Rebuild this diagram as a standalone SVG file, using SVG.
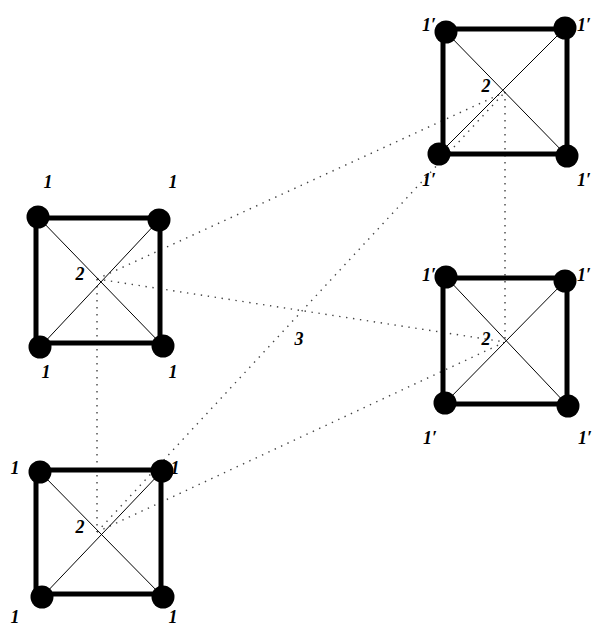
<svg xmlns="http://www.w3.org/2000/svg" width="592" height="626" viewBox="0 0 592 626">
  <style>
    .edge { fill: none; stroke: #000; stroke-width: 5; }
    .diag { stroke: #000; stroke-width: 1; }
    .vtx { fill: #000; }
    .link { stroke: #444; stroke-width: 1.4; stroke-dasharray: 1.4 5.6; fill: none; }
    .lbl { font-family: "Liberation Serif", "DejaVu Serif", serif; font-style: italic; font-weight: bold; font-size: 18px; fill: #000; text-anchor: middle; }
  </style>

  <!-- dotted links between cluster centres -->
  <g id="connectors">
    <line class="link" x1="97" y1="279" x2="97" y2="532"/>
    <line class="link" x1="505" y1="92" x2="505" y2="342"/>
    <line class="link" x1="97" y1="279" x2="505" y2="92"/>
    <line class="link" x1="97" y1="279" x2="505" y2="342"/>
    <line class="link" x1="97" y1="532" x2="505" y2="92"/>
    <line class="link" x1="97" y1="532" x2="505" y2="342"/>
  </g>

  <!-- left middle square -->
  <g id="squareA">
    <rect class="edge" x="36" y="218" width="124" height="125"/>
    <line class="diag" x1="38" y1="217" x2="163" y2="346"/>
    <line class="diag" x1="159" y1="220" x2="40" y2="347"/>
    <circle class="vtx" cx="38" cy="217" r="11.5"/>
    <circle class="vtx" cx="159" cy="220" r="11.5"/>
    <circle class="vtx" cx="40" cy="347" r="11.5"/>
    <circle class="vtx" cx="163" cy="346" r="11.5"/>
    <text class="lbl" x="48" y="188">1</text>
    <text class="lbl" x="173" y="188">1</text>
    <text class="lbl" x="46" y="378">1</text>
    <text class="lbl" x="173" y="378">1</text>
    <text class="lbl" x="80" y="280">2</text>
  </g>

  <!-- left bottom square -->
  <g id="squareB">
    <rect class="edge" x="36" y="470" width="125" height="124"/>
    <line class="diag" x1="40" y1="472" x2="163" y2="597"/>
    <line class="diag" x1="162" y1="471" x2="42" y2="597"/>
    <circle class="vtx" cx="40" cy="472" r="11.5"/>
    <circle class="vtx" cx="162" cy="471" r="11.5"/>
    <circle class="vtx" cx="42" cy="597" r="11.5"/>
    <circle class="vtx" cx="163" cy="597" r="11.5"/>
    <text class="lbl" x="15" y="474">1</text>
    <text class="lbl" x="175" y="474">1</text>
    <text class="lbl" x="15" y="623">1</text>
    <text class="lbl" x="173" y="623">1</text>
    <text class="lbl" x="80" y="533">2</text>
  </g>

  <!-- right top square -->
  <g id="squareC">
    <rect class="edge" x="443" y="29" width="124" height="125"/>
    <line class="diag" x1="446" y1="32" x2="567" y2="156"/>
    <line class="diag" x1="565" y1="28" x2="439" y2="154"/>
    <circle class="vtx" cx="446" cy="32" r="11.5"/>
    <circle class="vtx" cx="565" cy="28" r="11.5"/>
    <circle class="vtx" cx="439" cy="154" r="11.5"/>
    <circle class="vtx" cx="567" cy="156" r="11.5"/>
    <text class="lbl" x="429" y="31">1′</text>
    <text class="lbl" x="584" y="31">1′</text>
    <text class="lbl" x="429" y="186">1′</text>
    <text class="lbl" x="584" y="186">1′</text>
    <text class="lbl" x="486" y="92">2</text>
  </g>

  <!-- right middle square -->
  <g id="squareD">
    <rect class="edge" x="443" y="278" width="124" height="126"/>
    <line class="diag" x1="446" y1="277" x2="568" y2="406"/>
    <line class="diag" x1="565" y1="281" x2="445" y2="403"/>
    <circle class="vtx" cx="446" cy="277" r="11.5"/>
    <circle class="vtx" cx="565" cy="281" r="11.5"/>
    <circle class="vtx" cx="445" cy="403" r="11.5"/>
    <circle class="vtx" cx="568" cy="406" r="11.5"/>
    <text class="lbl" x="429" y="281">1′</text>
    <text class="lbl" x="584" y="281">1′</text>
    <text class="lbl" x="430" y="444">1′</text>
    <text class="lbl" x="585" y="444">1′</text>
    <text class="lbl" x="486" y="345">2</text>
  </g>

  <!-- label of the crossing region -->
  <g id="crossing">
    <text class="lbl" x="299" y="345">3</text>
  </g>
</svg>
